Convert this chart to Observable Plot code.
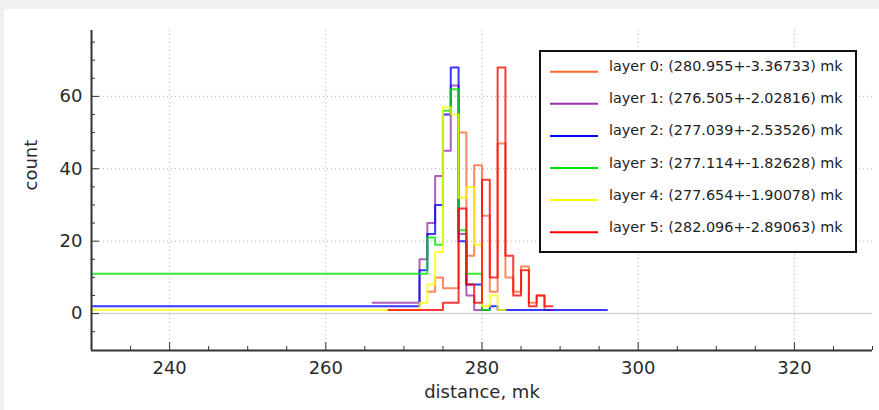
<!DOCTYPE html>
<html>
<head>
<meta charset="utf-8">
<script src="https://cdn.jsdelivr.net/npm/d3@7"></script>
<script src="https://cdn.jsdelivr.net/npm/@observablehq/plot@0.6"></script>
<style>
html, body { margin: 0; padding: 0; background: #f0f0f0; width: 879px; height: 410px; overflow: hidden; font-family: "DejaVu Sans", sans-serif; }
#panel { position: absolute; left: 4px; top: 9px; width: 875px; height: 401px; background: #ffffff; }
#chart { position: absolute; left: 0; top: 0; }
#legend { position: absolute; left: 535px; top: 41px; }
</style>
</head>
<body>
<div id="panel"><div id="chart"></div><div id="legend"></div></div>
<script>
// ---- data ----
const layerNames = [
  "layer 0: (280.955+-3.36733) mk",
  "layer 1: (276.505+-2.02816) mk",
  "layer 2: (277.039+-2.53526) mk",
  "layer 3: (277.114+-1.82628) mk",
  "layer 4: (277.654+-1.90078) mk",
  "layer 5: (282.096+-2.89063) mk"
];
const layerColors = ["#ff6633", "#9932aa", "#0000ff", "#00e600", "#ffff00", "#ff0000"];

// first bin edge of each layer (bins are 1 mk wide)
const layerStarts = [273, 266, 272, 273, 272, 268];
// value of the wide underflow bin that starts at underflowFrom (null = none)
const underflowFrom = 230;
const layerUnderflow = [null, null, 2, 11, 1, null];

const layer0Counts = [6, 10, 7, 7, 50, 16, 41, 27, 6, 47, 10, 6, 13, 3, 5, 1];
const layer1Counts = [3, 3, 3, 3, 3, 3, 15, 25, 38, 45, 63, 22, 5, 1];
const layer2Counts = [12, 22, 30, 55, 68, 20, 8, 8, 1, 2, 1, 1, 1, 1, 1, 1, 1, 1, 1, 1, 1, 1, 1, 1];
const layer3Counts = [21, 19, 56, 62, 23, 11, 11, 1];
const layer4Counts = [3, 8, 17, 57, 55, 32, 35, 19, 2, 5, 1];
const layer5Counts = [1, 1, 1, 1, 1, 1, 1, 3, 3, 29, 8, 3, 37, 10, 68, 16, 5, 12, 2, 5, 2];
const layerCounts = [layer0Counts, layer1Counts, layer2Counts, layer3Counts, layer4Counts, layer5Counts];

const xDomain = [230, 330];
const yDomain = [-10.2, 78.2];
const xMajorTicks = [240, 260, 280, 300, 320];
const xMinorTicks = [235, 245, 250, 255, 265, 270, 275, 285, 290, 295, 305, 310, 315, 325, 330];
const yMajorTicks = [0, 20, 40, 60];
const yMinorTicks = [-5, 5, 10, 15, 25, 30, 35, 45, 50, 55, 65, 70, 75];
const yGridTicks = [20, 40, 60];
const xLabel = "distance, mk";
const yLabel = "count";

// ---- build step-line rows ----
const rows = [];
layerNames.forEach((name, li) => {
  const counts = layerCounts[li];
  const start = layerStarts[li];
  if (layerUnderflow[li] !== null) rows.push({layer: name, x: underflowFrom, y: layerUnderflow[li]});
  counts.forEach((c, i) => rows.push({layer: name, x: start + i, y: c}));
  rows.push({layer: name, x: start + counts.length, y: counts[counts.length - 1]});
});

const chart = Plot.plot({
  width: 875,
  height: 401,
  marginLeft: 87,
  marginRight: 7,
  marginTop: 21,
  marginBottom: 60,
  style: {fontFamily: '"DejaVu Sans", sans-serif', fontSize: "18px", color: "#2a2a2a", background: "transparent", overflow: "visible"},
  x: {domain: xDomain},
  y: {domain: yDomain},
  color: {domain: layerNames, range: layerColors},
  marks: [
    Plot.gridX(xMajorTicks, {stroke: "#b5b5b5", strokeOpacity: 1, strokeDasharray: "1.2,2.8"}),
    Plot.gridY(yGridTicks, {stroke: "#b5b5b5", strokeOpacity: 1, strokeDasharray: "1.2,2.8"}),
    Plot.ruleY([0], {stroke: "#d4d4d4", strokeWidth: 1.5}),
    Plot.line(rows, {x: "x", y: "y", z: "layer", stroke: "layer", curve: "step-after", strokeWidth: 2, strokeOpacity: 0.78, clip: true}),
    Plot.axisX(xMajorTicks, {tickSize: -8, tickPadding: 19, label: null, stroke: "#333"}),
    Plot.axisX(xMinorTicks, {tickSize: -4, fill: "none", label: null, stroke: "#333"}),
    Plot.axisY(yMajorTicks, {tickSize: -8, tickPadding: 17, label: null, stroke: "#333"}),
    Plot.axisY(yMinorTicks, {tickSize: -4, fill: "none", label: null, stroke: "#333"}),
    Plot.ruleX([xDomain[0]], {stroke: "#333", strokeWidth: 2}),
    Plot.ruleY([yDomain[0]], {stroke: "#333", strokeWidth: 2}),
    Plot.text([yLabel], {text: d => d, frameAnchor: "left", dx: -60, rotate: -90, fontSize: 18, fill: "#2a2a2a"}),
    Plot.text([xLabel], {text: d => d, frameAnchor: "bottom", dy: 47.5, fontSize: 18, fill: "#2a2a2a"})
  ]
});
document.getElementById("chart").append(chart);

// ---- legend ----
const lg = d3.select("#legend").append("svg").attr("width", 319).attr("height", 205)
  .style("font-family", '"DejaVu Sans", sans-serif');
lg.append("rect").attr("x", 1).attr("y", 1).attr("width", 316).attr("height", 201)
  .attr("fill", "#fff").attr("stroke", "#111").attr("stroke-width", 2);
layerNames.forEach((name, i) => {
  const y = 21.7 + i * 32.1;
  lg.append("line").attr("x1", 11).attr("x2", 59).attr("y1", y).attr("y2", y)
    .attr("stroke", layerColors[i]).attr("stroke-width", 2);
  lg.append("text").attr("x", 70).attr("y", y - 0.5).attr("font-size", 14.4)
    .attr("fill", "#222").text(name);
});
</script>
</body>
</html>
